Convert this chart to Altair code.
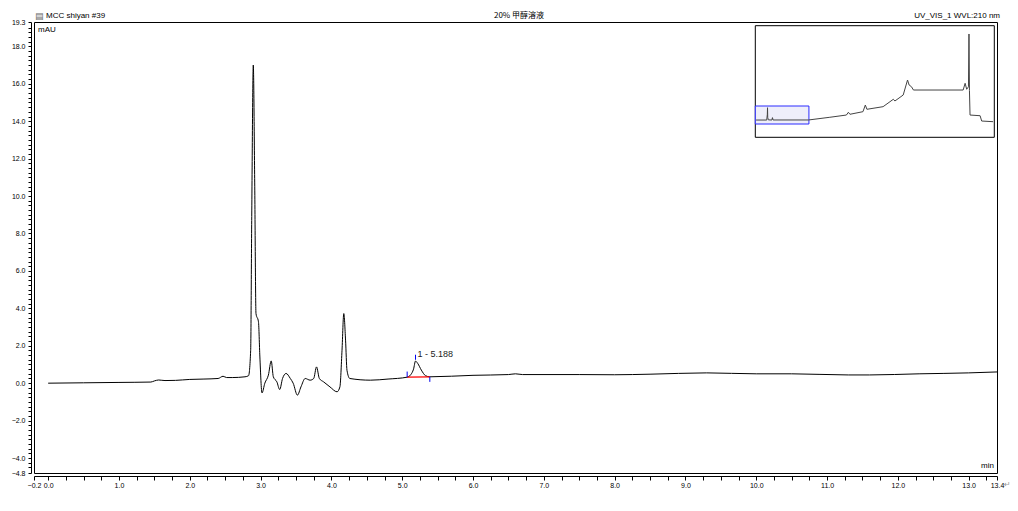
import json
import altair as alt
import pandas as pd

# ---------------- data ----------------
TIME = [0.0, 0.5, 1.0, 1.45, 1.5, 1.56, 1.65, 1.8, 2.0, 2.2, 2.4, 2.47, 2.52, 2.6, 2.78,
        2.83, 2.86, 2.875, 2.897, 2.917, 2.935, 2.97, 2.99, 3.02, 3.06, 3.11, 3.15, 3.18,
        3.23, 3.27, 3.31, 3.36, 3.42, 3.46, 3.52, 3.57, 3.63, 3.70, 3.75, 3.79, 3.83, 3.89,
        3.98, 4.08, 4.12, 4.15, 4.175, 4.20, 4.22, 4.26, 4.55, 4.8, 5.07, 5.12, 5.16, 5.188,
        5.22, 5.27, 5.33, 5.39, 6.0, 6.5, 6.6, 6.7, 7.5, 8.0, 8.5, 9.3, 10.0, 10.5, 11.3,
        11.6, 12.3, 13.0, 13.4]
MAU = [0.0, 0.02, 0.04, 0.06, 0.12, 0.17, 0.14, 0.15, 0.2, 0.22, 0.25, 0.37, 0.3, 0.3, 0.34,
       0.4, 1.76, 8.9, 17.0, 10.7, 3.72, 3.28, 1.4, -0.52, 0.0, 0.43, 1.19, 0.34,
       0.07, -0.34, 0.25, 0.52, 0.25, 0.0, -0.64, -0.2, 0.25, 0.16, 0.25, 0.87, 0.25, 0.07,
       -0.2, -0.46, -0.2, 1.76, 3.72, 2.3, 0.69, 0.25, 0.16, 0.22, 0.32, 0.45, 0.75, 1.18,
       1.05, 0.7, 0.4, 0.34, 0.42, 0.46, 0.5, 0.46, 0.46, 0.45, 0.48, 0.55, 0.5, 0.5, 0.44,
       0.44, 0.5, 0.55, 0.6]

BASE_T = [5.07, 5.39]
BASE_Y = [0.32, 0.34]

MARK_T = [5.07, 5.188, 5.39]
MARK_Y1 = [0.32, 1.25, 0.07]
MARK_Y2 = [0.62, 1.52, 0.34]

PEAK_T = [5.188]
PEAK_Y = [1.54]
PEAK_LABEL = ["1 - 5.188"]

X_DOMAIN = [-0.2, 13.4]
Y_DOMAIN = [-4.8, 19.3]
X_LABELS = [-0.2, 0.0, 1.0, 2.0, 3.0, 4.0, 5.0, 6.0, 7.0, 8.0, 9.0, 10.0, 11.0, 12.0, 13.0, 13.4]
Y_LABELS = [-4.8, -4.0, -2.0, 0.0, 2.0, 4.0, 6.0, 8.0, 10.0, 12.0, 14.0, 16.0, 18.0, 19.3]
MINOR_STEP = 0.25

INSET_T = [0.0, 2.7, 2.85, 2.9, 2.95, 3.1, 4.0, 4.15, 4.3, 13.3, 18.7, 22.9, 23.4, 23.8,
           27.1, 27.7, 28.1, 32.2, 34.8, 35.2, 37.3, 38.4, 38.8, 39.4, 39.9, 52.5, 53.0,
           53.4, 53.85, 53.98, 54.1, 54.25, 56.8, 57.2, 60.1]
INSET_Y = [0.5, 0.5, 8.0, 17.0, 4.0, 0.8, 0.5, 3.7, 0.6, 0.6, 4.2, 7.2, 10.9, 8.2,
           11.7, 20.6, 14.9, 18.4, 28.3, 26.0, 34.0, 54.1, 47.4, 45.1, 40.7, 40.7, 49.7,
           41.7, 45.0, 115.7, 40.0, 7.2, 6.3, -0.8, -1.7]
INSET_X_DOMAIN = [-0.2, 60.4]
INSET_Y_DOMAIN = [-22.6, 126.8]

TITLE_LEFT = "MCC shiyan #39"
TITLE_CENTER = "20% 甲醇溶液"
TITLE_RIGHT = "UV_VIS_1 WVL:210 nm"
Y_UNIT = "mAU"
X_UNIT = "min"
ICON = "▤"
RETURN_MARK = "↵"

# ---------------- layout ----------------
W, H = 963, 451
INSET_RANGE_X = [721.3, 960.3]
INSET_RANGE_Y = [115.3, 3.7]
FONT = "Liberation Sans"
TICK_FONT_SIZE = 7


def minor_ticks(lo, hi, step):
    vals = []
    k = int(lo // step) + 1
    while k * step < hi - 1e-9:
        v = round(k * step, 4)
        if abs(v - lo) > 0.1 and abs(v - hi) > 0.1:
            vals.append(float(v))
        k += 1
    return sorted(set(vals + [lo, hi]))


x_ticks = sorted(set(minor_ticks(X_DOMAIN[0], X_DOMAIN[1], MINOR_STEP) + X_LABELS))
y_ticks = sorted(set(minor_ticks(Y_DOMAIN[0], Y_DOMAIN[1], MINOR_STEP) + Y_LABELS))


def label_expr(labels):
    return "indexof(" + json.dumps(labels) + ", datum.value) >= 0 ? format(datum.value, '.1f') : ''"


x_scale = alt.Scale(domain=X_DOMAIN, nice=False, zero=False)
y_scale = alt.Scale(domain=Y_DOMAIN, nice=False, zero=False)

x_axis = alt.Axis(values=x_ticks, tickCount=1000, labelExpr=label_expr(X_LABELS), offset=3,
                  tickSize=4, labelPadding=1, labelOverlap=False, labelFlush=False, title=None,
                  grid=False, labelFontSize=TICK_FONT_SIZE, labelFont=FONT, labelColor="#000",
                  domainColor="#000", tickColor="#000")
y_axis = alt.Axis(values=y_ticks, tickCount=1000, labelExpr=label_expr(Y_LABELS), offset=3,
                  tickSize=3, labelPadding=3, labelOverlap=False, labelFlush=False, title=None,
                  grid=False, labelFontSize=TICK_FONT_SIZE, labelFont=FONT, labelColor="#000",
                  domainColor="#000", tickColor="#000")

main_df = pd.DataFrame({"t": TIME, "v": MAU})
curve = alt.Chart(main_df).mark_line(color="#000", strokeWidth=1, interpolate="monotone").encode(
    x=alt.X("t:Q", scale=x_scale, axis=x_axis),
    y=alt.Y("v:Q", scale=y_scale, axis=y_axis),
)

base_df = pd.DataFrame({"t": BASE_T, "v": BASE_Y})
baseline = alt.Chart(base_df).mark_line(color="#ff0000", strokeWidth=1.2).encode(
    x="t:Q", y="v:Q")

mark_df = pd.DataFrame({"t": MARK_T, "y1": MARK_Y1, "y2": MARK_Y2})
markers = alt.Chart(mark_df).mark_rule(color="#0000ee", strokeWidth=1).encode(
    x="t:Q", y="y1:Q", y2="y2:Q")

peak_df = pd.DataFrame({"t": PEAK_T, "v": PEAK_Y, "lab": PEAK_LABEL})
peak_label = alt.Chart(peak_df).mark_text(align="left", baseline="middle", dx=2, fontSize=9,
                                         font=FONT, color="#222").encode(
    x="t:Q", y="v:Q", text="lab:N")

one = pd.DataFrame({"a": [0]})


def txt(s, x, y, align, size=8, color="#000", font=FONT):
    return alt.Chart(one).mark_text(align=align, baseline="middle", fontSize=size, font=font,
                                    color=color).encode(
        x=alt.value(x), y=alt.value(y), text=alt.value(s))


texts = [
    txt(ICON, 1, -6, "left", size=9, color="#666", font="DejaVu Sans"),
    txt(TITLE_LEFT, 12, -6, "left"),
    txt(TITLE_CENTER, 485, -6, "center", font="Noto Sans CJK SC"),
    txt(TITLE_RIGHT, 966, -6, "right"),
    txt(Y_UNIT, 4, 8, "left"),
    txt(X_UNIT, 960, 444, "right"),
    txt(RETURN_MARK, 970, 463, "left", size=8, color="#999", font="DejaVu Sans"),
]

main = alt.layer(curve, baseline, markers, peak_label, *texts)

# ---------------- inset ----------------
ix = alt.Scale(domain=INSET_X_DOMAIN, range=INSET_RANGE_X, nice=False, zero=False)
iy = alt.Scale(domain=INSET_Y_DOMAIN, range=INSET_RANGE_Y, nice=False, zero=False)

frame_df = pd.DataFrame({"x0": [INSET_X_DOMAIN[0]], "x1": [INSET_X_DOMAIN[1]],
                         "y0": [INSET_Y_DOMAIN[0]], "y1": [INSET_Y_DOMAIN[1]]})
frame = alt.Chart(frame_df).mark_rect(fill="white", stroke="#000", strokeWidth=1).encode(
    x=alt.X("x0:Q", scale=ix, axis=None), x2="x1:Q",
    y=alt.Y("y0:Q", scale=iy, axis=None), y2="y1:Q")

zoom_df = pd.DataFrame({"x0": [X_DOMAIN[0]], "x1": [X_DOMAIN[1]],
                        "y0": [Y_DOMAIN[0]], "y1": [Y_DOMAIN[1]]})
zoom_box = alt.Chart(zoom_df).mark_rect(fill="#eeeefa", stroke="#2b2bff", strokeWidth=1).encode(
    x=alt.X("x0:Q", scale=ix, axis=None), x2="x1:Q",
    y=alt.Y("y0:Q", scale=iy, axis=None), y2="y1:Q")

inset_df = pd.DataFrame({"t": INSET_T, "v": INSET_Y})
inset_curve = alt.Chart(inset_df).mark_line(color="#444", strokeWidth=1).encode(
    x=alt.X("t:Q", scale=ix, axis=None),
    y=alt.Y("v:Q", scale=iy, axis=None))

inset = alt.layer(frame, zoom_box, inset_curve)

chart = alt.layer(main, inset).resolve_scale(x="independent", y="independent").properties(
    width=W, height=H,
    autosize=alt.AutoSizeParams(type="none"),
    padding={"left": 26, "top": 14, "right": 13, "bottom": 30},
    background="white",
).configure_view(stroke="#000", strokeWidth=1)

chart.save("out.html", embed_options={"renderer": "svg", "actions": False})
